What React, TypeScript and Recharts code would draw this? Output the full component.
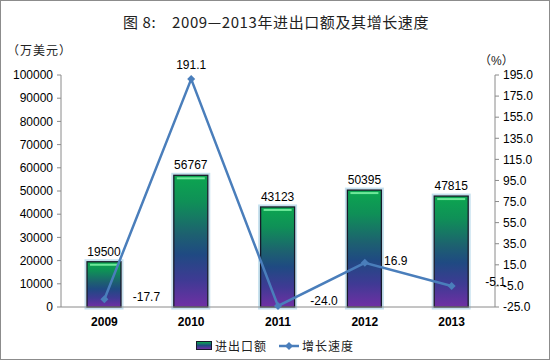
import React from 'react';
import { ComposedChart, Bar, Line, XAxis, YAxis, LabelList } from 'recharts';

const years = ['2009', '2010', '2011', '2012', '2013'];
const tradeValues = [19500, 56767, 43123, 50395, 47815];
const growthRates = [-17.7, 191.1, -24.0, 16.9, -5.1];
const leftTicks = [0, 10000, 20000, 30000, 40000, 50000, 60000, 70000, 80000, 90000, 100000];
const rightTicks = [-25, -5, 15, 35, 55, 75, 95, 115, 135, 155, 175, 195];

const data = years.map((y, i) => ({ year: y, trade: tradeValues[i], growth: growthRates[i] }));

const FONT = '"Liberation Sans", "Noto Sans CJK SC", sans-serif';
const CJK = '"Noto Sans CJK SC", sans-serif';
const LINE_COLOR = '#4a7ebb';

const BarShape = (props: any) => {
  const { x, y, width, height } = props;
  if (height <= 0) return null;
  return (
    <g>
      <rect x={x - 1.5} y={y - 1.5} width={width + 3} height={height + 3} fill="none" stroke="#c5e0ee" strokeWidth={2} />
      <rect x={x} y={y} width={width} height={height} fill="url(#barGrad)" stroke="#161a2a" strokeWidth={1.3} />
      <line x1={x + 3} x2={x + width - 3} y1={y + 3} y2={y + 3} stroke="#6ee89a" strokeWidth={2} />
    </g>
  );
};

const Diamond = (props: any) => {
  const { cx, cy } = props;
  const s = 4;
  return <path d={`M${cx},${cy - s}L${cx + s},${cy}L${cx},${cy + s}L${cx - s},${cy}Z`} fill={LINE_COLOR} />;
};

const labelOffsets = [
  { dx: 42, dy: 2 },
  { dx: 0, dy: -10 },
  { dx: 46, dy: -1 },
  { dx: 31, dy: 2 },
  { dx: 44, dy: 0 },
];

const GrowthLabel = (props: any) => {
  const { x, y, value, index } = props;
  const o = labelOffsets[index] || { dx: 0, dy: -8 };
  return (
    <text x={x + o.dx} y={y + o.dy} textAnchor="middle" fontSize={12} fontFamily={FONT} fill="#000">
      {Number(value).toFixed(1)}
    </text>
  );
};

export default function App() {
  return (
    <div style={{ position: 'absolute', left: 0, top: 0, width: 550, height: 360, border: '1px solid #8c8c8c', boxSizing: 'border-box', background: '#fff', fontFamily: FONT }}>
      <div style={{ position: 'absolute', left: 0, top: 10, width: 550, textAlign: 'center', fontSize: 15, fontFamily: CJK, color: '#222', letterSpacing: 0.6 }}>
        图 8:&nbsp;&nbsp;&nbsp; 2009—2013年进出口额及其增长速度
      </div>
      <div style={{ position: 'absolute', left: 6, top: 40, fontSize: 12, fontFamily: CJK, color: '#222', letterSpacing: 1 }}>（万美元）</div>
      <div style={{ position: 'absolute', left: 478, top: 50, fontSize: 12, fontFamily: FONT, color: '#222' }}>（%）</div>
      <ComposedChart width={548} height={358} data={data} margin={{ top: 74, right: 0, left: 0, bottom: 0 }} style={{ position: 'absolute', left: 0, top: 0 }}>
        <defs>
          <linearGradient id="barGrad" x1="0" y1="0" x2="0" y2="1">
            <stop offset="0" stopColor="#0ca650" />
            <stop offset="0.2" stopColor="#0f9057" />
            <stop offset="0.45" stopColor="#1d6070" />
            <stop offset="0.6" stopColor="#1f4a82" />
            <stop offset="0.8" stopColor="#3f3a94" />
            <stop offset="1" stopColor="#7030a4" />
          </linearGradient>
        </defs>
        <XAxis dataKey="year" height={52} tickLine={false} axisLine={{ stroke: '#8a8a8a' }} tick={{ fontSize: 12, fill: '#000', fontFamily: FONT, fontWeight: 'bold' } as any} tickMargin={4} />
        <YAxis yAxisId="left" width={60} domain={[0, 100000]} ticks={leftTicks} interval={0} axisLine={{ stroke: '#8a8a8a' }} tickLine={{ stroke: '#8a8a8a' }} tickSize={4} tick={{ fontSize: 12, fill: '#000', fontFamily: FONT }} tickMargin={4} />
        <YAxis yAxisId="right" orientation="right" width={54} domain={[-25, 195]} ticks={rightTicks} interval={0} axisLine={{ stroke: '#8a8a8a' }} tickLine={{ stroke: '#8a8a8a' }} tickSize={4} tick={{ fontSize: 12, fill: '#000', fontFamily: FONT }} tickFormatter={(v: number) => v.toFixed(1)} tickMargin={4} />
        <Bar yAxisId="left" dataKey="trade" barSize={34} shape={<BarShape />} isAnimationActive={false}>
          <LabelList dataKey="trade" position="top" offset={6} style={{ fontSize: 12, fill: '#000', fontFamily: FONT }} />
        </Bar>
        <Line yAxisId="right" dataKey="growth" stroke={LINE_COLOR} strokeWidth={2.5} dot={<Diamond />} activeDot={false} isAnimationActive={false}>
          <LabelList dataKey="growth" content={<GrowthLabel />} />
        </Line>
      </ComposedChart>
      <div style={{ position: 'absolute', left: 0, top: 336, width: 548, display: 'flex', justifyContent: 'center', alignItems: 'center', fontSize: 12, fontFamily: CJK, color: '#222', letterSpacing: 1 }}>
        <span style={{ display: 'inline-block', width: 14, height: 7, background: 'linear-gradient(#0ca650, #1f4a82, #7030a4)', border: '1px solid #161a2a', marginRight: 3 }} />
        <span style={{ marginRight: 12 }}>进出口额</span>
        <svg width={20} height={10} style={{ marginRight: 3 }}>
          <line x1={0} x2={20} y1={5} y2={5} stroke={LINE_COLOR} strokeWidth={2.5} />
          <path d="M10,1L14,5L10,9L6,5Z" fill={LINE_COLOR} />
        </svg>
        <span>增长速度</span>
      </div>
    </div>
  );
}
